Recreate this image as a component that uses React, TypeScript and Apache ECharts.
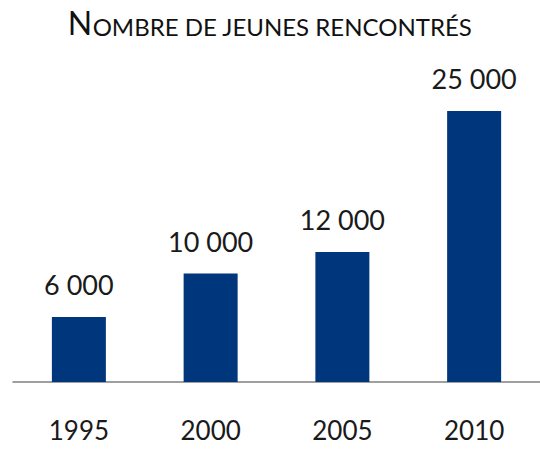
import React, { useEffect, useRef } from "react";
import * as echarts from "echarts";

const categories = ["1995", "2000", "2005", "2010"];
const values = [6000, 10000, 12000, 25000];
const titleFirst = "N";
const titleRest = "OMBRE DE JEUNES RENCONTRÉS";

const FONT = "Lato, 'Open Sans', sans-serif";

export default function App() {
  const ref = useRef<HTMLDivElement>(null);
  useEffect(() => {
    document.body.style.margin = "0";
    const chart = echarts.init(ref.current!, null, { renderer: "svg" });
    chart.setOption({
      animation: false,
      backgroundColor: "#ffffff",
      title: {
        text: `{a|${titleFirst}}{b|${titleRest}}`,
        left: "center",
        top: -3,
        textStyle: {
          rich: {
            a: { fontSize: 32, fontFamily: FONT, fontWeight: "normal", color: "#111", verticalAlign: "bottom", lineHeight: 36 },
            b: { fontSize: 24, fontFamily: FONT, fontWeight: "normal", color: "#111", verticalAlign: "bottom", lineHeight: 36 },
          },
        },
      },
      grid: { left: 13, top: 111, width: 537, bottom: 67, containLabel: false },
      xAxis: {
        type: "category",
        data: categories,
        axisLine: { lineStyle: { color: "#808080", width: 1.5 } },
        axisTick: { show: false },
        axisLabel: { margin: 35, fontSize: 26, fontFamily: FONT, color: "#1a1a1a" },
      },
      yAxis: {
        type: "value",
        min: 0,
        max: 25000,
        show: false,
        splitLine: { show: false },
      },
      series: [
        {
          type: "bar",
          data: values,
          barWidth: 54,
          itemStyle: { color: "#00367b" },
          label: {
            show: true,
            position: "top",
            distance: 19,
            fontSize: 27,
            fontFamily: FONT,
            color: "#1a1a1a",
            formatter: (p: any) => String(p.value).replace(/\B(?=(\d{3})+(?!\d))/g, " "),
          },
        },
      ],
    });
    return () => chart.dispose();
  }, []);
  return <div ref={ref} style={{ width: 540, height: 449 }} />;
}
